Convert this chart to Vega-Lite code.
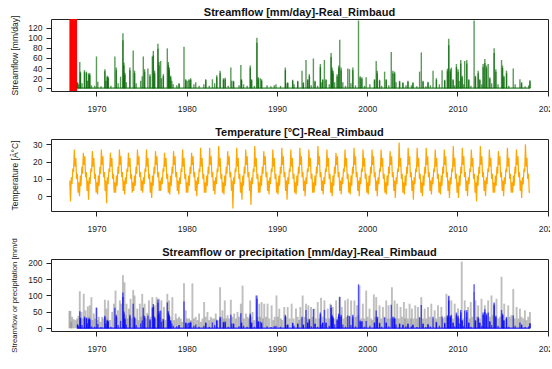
{
"$schema":"https://vega.github.io/schema/vega-lite/v6.json",
"autosize":{"type":"pad"},
"padding":{"left":9,"top":6,"right":-8,"bottom":0},
"background":"white",
"config":{
"view":{"stroke":"#222","strokeWidth":1},
"font":"Liberation Sans",
"axis":{"domain":false,"grid":false,"tickColor":"#222","tickSize":5,"labelFont":"Liberation Sans","labelFontSize":8.5,"labelColor":"#222","titleFont":"Liberation Sans","titleFontSize":8.5,"titleFontWeight":"normal","titleColor":"#222"},
"title":{"font":"Liberation Sans","fontSize":11,"fontWeight":"bold","anchor":"middle","frame":"group","offset":1,"baseline":"alphabetic","color":"#111"}
},
"bounds":"flush",
"spacing":48,
"datasets":{
"gap":[{"s":1967.0,"e":1967.85}],
"base":[{"x":1967.88,"q":0.6},{"x":2018.04,"q":0.6}],
"flow":[
{"x":1967.90,"q":12},{"x":1967.904,"q":11},{"x":1968.00,"q":8},{"x":1968.15,"q":52},{"x":1968.22,"q":33},{"x":1968.224,"q":30},{"x":1968.40,"q":10},{"x":1968.67,"q":36},{"x":1968.674,"q":32},{"x":1968.89,"q":33},{"x":1968.894,"q":30},{"x":1969.00,"q":15},{"x":1969.15,"q":30},{"x":1969.154,"q":27},{"x":1969.26,"q":30},{"x":1969.264,"q":26},{"x":1969.45,"q":6},{"x":1969.80,"q":5},
{"x":1970.00,"q":63},{"x":1970.15,"q":13},{"x":1970.50,"q":4},{"x":1970.93,"q":38},{"x":1970.934,"q":34},{"x":1971.05,"q":15},{"x":1971.19,"q":25},{"x":1971.194,"q":22},{"x":1971.30,"q":23},{"x":1971.304,"q":20},{"x":1971.60,"q":5},
{"x":1972.04,"q":63},{"x":1972.19,"q":41},{"x":1972.194,"q":36},{"x":1972.40,"q":10},{"x":1972.67,"q":23},{"x":1972.93,"q":109},{"x":1972.934,"q":95},{"x":1973.04,"q":51},{"x":1973.044,"q":45},{"x":1973.15,"q":31},{"x":1973.154,"q":27},{"x":1973.30,"q":12},{"x":1973.70,"q":41},{"x":1973.704,"q":36},
{"x":1974.07,"q":75},{"x":1974.22,"q":35},{"x":1974.224,"q":30},{"x":1974.40,"q":10},{"x":1974.90,"q":15},{"x":1975.07,"q":24},{"x":1975.19,"q":63},{"x":1975.33,"q":38},{"x":1975.334,"q":33},{"x":1975.70,"q":39},{"x":1975.93,"q":28},{"x":1975.934,"q":24},
{"x":1976.19,"q":63},{"x":1976.30,"q":74},{"x":1976.304,"q":65},{"x":1976.44,"q":35},{"x":1976.444,"q":30},{"x":1976.81,"q":88},{"x":1976.814,"q":78},{"x":1976.93,"q":52},{"x":1976.934,"q":45},{"x":1977.11,"q":54},{"x":1977.20,"q":20},{"x":1977.41,"q":28},{"x":1977.414,"q":24},{"x":1977.85,"q":79},{"x":1977.96,"q":52},{"x":1977.964,"q":46},
{"x":1978.07,"q":41},{"x":1978.074,"q":36},{"x":1978.22,"q":25},{"x":1978.224,"q":22},{"x":1978.35,"q":15},{"x":1978.50,"q":8},{"x":1978.90,"q":6},{"x":1979.15,"q":10},{"x":1979.154,"q":9},{"x":1979.70,"q":82},{"x":1979.89,"q":18},{"x":1979.894,"q":16},
{"x":1980.05,"q":15},{"x":1980.26,"q":18},{"x":1980.264,"q":16},{"x":1980.44,"q":20},{"x":1980.444,"q":17},{"x":1980.80,"q":8},{"x":1981.00,"q":12},{"x":1981.37,"q":5},{"x":1981.90,"q":8},{"x":1982.11,"q":18},{"x":1982.114,"q":16},{"x":1982.50,"q":5},{"x":1982.85,"q":18},
{"x":1983.10,"q":10},{"x":1983.33,"q":26},{"x":1983.334,"q":22},{"x":1983.70,"q":35},{"x":1983.704,"q":30},{"x":1984.07,"q":20},{"x":1984.074,"q":17},{"x":1984.26,"q":21},{"x":1984.264,"q":18},{"x":1984.60,"q":5},{"x":1984.89,"q":41},{"x":1985.00,"q":15},{"x":1985.19,"q":15},{"x":1985.194,"q":13},{"x":1985.80,"q":6},
{"x":1986.00,"q":46},{"x":1986.07,"q":18},{"x":1986.074,"q":16},{"x":1986.30,"q":8},{"x":1986.70,"q":5},{"x":1987.04,"q":45},{"x":1987.044,"q":40},{"x":1987.19,"q":18},{"x":1987.194,"q":16},{"x":1987.50,"q":5},{"x":1987.78,"q":100},{"x":1987.784,"q":90},{"x":1987.93,"q":22},{"x":1987.934,"q":19},
{"x":1988.15,"q":20},{"x":1988.30,"q":18},{"x":1988.304,"q":15},{"x":1988.90,"q":6},{"x":1989.33,"q":4},{"x":1989.70,"q":6},{"x":1989.89,"q":8},{"x":1990.40,"q":5},{"x":1990.93,"q":41},{"x":1990.934,"q":36},{"x":1991.00,"q":10},{"x":1991.19,"q":12},{"x":1991.194,"q":10},{"x":1991.74,"q":17},{"x":1991.744,"q":15},{"x":1991.90,"q":8},
{"x":1992.30,"q":15},{"x":1992.304,"q":13},{"x":1992.78,"q":35},{"x":1992.93,"q":12},{"x":1992.934,"q":10},{"x":1993.22,"q":56},{"x":1993.41,"q":18},{"x":1993.414,"q":16},{"x":1993.59,"q":28},{"x":1993.594,"q":24},{"x":1993.80,"q":6},
{"x":1994.04,"q":59},{"x":1994.22,"q":15},{"x":1994.224,"q":13},{"x":1994.50,"q":5},{"x":1994.81,"q":48},{"x":1994.814,"q":42},{"x":1994.90,"q":12},{"x":1995.07,"q":18},{"x":1995.074,"q":16},{"x":1995.26,"q":56},{"x":1995.44,"q":18},{"x":1995.444,"q":16},{"x":1995.80,"q":8},
{"x":1996.00,"q":70},{"x":1996.004,"q":62},{"x":1996.11,"q":41},{"x":1996.114,"q":36},{"x":1996.22,"q":35},{"x":1996.224,"q":30},{"x":1996.40,"q":12},{"x":1996.67,"q":28},{"x":1996.674,"q":24},{"x":1996.85,"q":45},{"x":1996.854,"q":40},{"x":1996.96,"q":96},{"x":1997.11,"q":41},{"x":1997.114,"q":36},{"x":1997.30,"q":12},{"x":1997.60,"q":5},{"x":1997.85,"q":39},
{"x":1998.04,"q":38},{"x":1998.20,"q":10},{"x":1998.41,"q":41},{"x":1998.414,"q":36},{"x":1998.70,"q":6},{"x":1999.04,"q":134},{"x":1999.22,"q":24},{"x":1999.224,"q":21},{"x":1999.41,"q":22},{"x":1999.414,"q":19},{"x":1999.70,"q":5},{"x":1999.89,"q":22},
{"x":2000.30,"q":8},{"x":2000.81,"q":18},{"x":2000.814,"q":16},{"x":2001.00,"q":54},{"x":2001.11,"q":35},{"x":2001.114,"q":30},{"x":2001.37,"q":17},{"x":2001.374,"q":15},{"x":2001.60,"q":5},{"x":2001.93,"q":33},
{"x":2002.11,"q":18},{"x":2002.114,"q":16},{"x":2002.40,"q":6},{"x":2002.67,"q":72},{"x":2002.85,"q":35},{"x":2002.854,"q":30},{"x":2003.04,"q":33},{"x":2003.044,"q":29},{"x":2003.20,"q":12},{"x":2003.59,"q":15},{"x":2003.594,"q":13},{"x":2003.96,"q":12},{"x":2003.964,"q":10},
{"x":2004.30,"q":6},{"x":2004.52,"q":15},{"x":2004.524,"q":13},{"x":2004.90,"q":6},{"x":2005.07,"q":12},{"x":2005.074,"q":10},{"x":2005.50,"q":4},{"x":2005.81,"q":33},
{"x":2006.00,"q":71},{"x":2006.19,"q":15},{"x":2006.194,"q":13},{"x":2006.50,"q":4},{"x":2006.74,"q":13},{"x":2006.744,"q":11},{"x":2007.00,"q":6},{"x":2007.30,"q":35},{"x":2007.67,"q":20},{"x":2007.674,"q":17},
{"x":2008.00,"q":8},{"x":2008.30,"q":36},{"x":2008.59,"q":17},{"x":2008.594,"q":15},{"x":2008.89,"q":39},{"x":2008.894,"q":34},{"x":2009.04,"q":98},{"x":2009.044,"q":85},{"x":2009.22,"q":38},{"x":2009.224,"q":33},{"x":2009.33,"q":41},{"x":2009.52,"q":18},{"x":2009.524,"q":16},{"x":2009.70,"q":6},{"x":2009.89,"q":48},{"x":2009.894,"q":42},
{"x":2010.07,"q":38},{"x":2010.074,"q":33},{"x":2010.20,"q":15},{"x":2010.37,"q":56},{"x":2010.374,"q":49},{"x":2010.52,"q":25},{"x":2010.524,"q":22},{"x":2010.70,"q":8},{"x":2010.81,"q":54},{"x":2011.04,"q":56},{"x":2011.044,"q":49},{"x":2011.26,"q":18},{"x":2011.264,"q":16},{"x":2011.50,"q":5},{"x":2011.85,"q":134},
{"x":2012.00,"q":25},{"x":2012.004,"q":22},{"x":2012.30,"q":35},{"x":2012.304,"q":30},{"x":2012.48,"q":18},{"x":2012.484,"q":16},{"x":2012.70,"q":8},{"x":2012.85,"q":48},{"x":2012.854,"q":42},{"x":2013.04,"q":58},{"x":2013.044,"q":50},{"x":2013.22,"q":45},{"x":2013.224,"q":40},{"x":2013.41,"q":48},{"x":2013.59,"q":22},{"x":2013.594,"q":19},{"x":2013.80,"q":10},
{"x":2014.07,"q":79},{"x":2014.074,"q":70},{"x":2014.26,"q":38},{"x":2014.264,"q":33},{"x":2014.50,"q":8},{"x":2014.89,"q":56},{"x":2015.00,"q":45},{"x":2015.004,"q":40},{"x":2015.15,"q":25},{"x":2015.154,"q":22},{"x":2015.44,"q":35},{"x":2015.444,"q":30},{"x":2015.70,"q":5},
{"x":2016.19,"q":39},{"x":2016.40,"q":8},{"x":2016.93,"q":18},{"x":2017.11,"q":12},{"x":2017.114,"q":10},{"x":2017.50,"q":4},{"x":2017.90,"q":6},{"x":2018.04,"q":16},{"x":2018.044,"q":14}
],
"prec":[
{"x":1967.00,"p":53},{"x":1967.11,"p":53},{"x":1967.20,"p":20},{"x":1967.30,"p":35},{"x":1967.48,"p":28},{"x":1967.67,"p":25},{"x":1967.85,"p":30},{"x":1968.00,"p":38},{"x":1968.15,"p":113},{"x":1968.33,"p":50},{"x":1968.45,"p":30},{"x":1968.59,"p":105},{"x":1968.78,"p":55},{"x":1968.90,"p":30},
{"x":1969.04,"p":67},{"x":1969.15,"p":35},{"x":1969.26,"p":70},{"x":1969.44,"p":95},{"x":1969.55,"p":25},{"x":1969.70,"p":45},{"x":1969.85,"p":30},{"x":1970.00,"p":63},{"x":1970.12,"p":25},{"x":1970.26,"p":35},{"x":1970.45,"p":20},{"x":1970.63,"p":35},{"x":1970.78,"p":30},{"x":1970.93,"p":87},
{"x":1971.11,"p":60},{"x":1971.20,"p":30},{"x":1971.30,"p":85},{"x":1971.50,"p":25},{"x":1971.74,"p":50},{"x":1971.93,"p":75},{"x":1972.11,"p":115},{"x":1972.25,"p":35},{"x":1972.37,"p":55},{"x":1972.59,"p":85},{"x":1972.74,"p":75},{"x":1972.93,"p":162},
{"x":1973.11,"p":140},{"x":1973.22,"p":40},{"x":1973.33,"p":75},{"x":1973.45,"p":30},{"x":1973.59,"p":60},{"x":1973.78,"p":90},{"x":1973.90,"p":30},{"x":1974.07,"p":117},{"x":1974.22,"p":100},{"x":1974.35,"p":30},{"x":1974.52,"p":60},{"x":1974.65,"p":25},{"x":1974.81,"p":75},{"x":1974.95,"p":35},
{"x":1975.07,"p":105},{"x":1975.20,"p":40},{"x":1975.33,"p":75},{"x":1975.48,"p":30},{"x":1975.63,"p":47},{"x":1975.81,"p":85},{"x":1976.00,"p":35},{"x":1976.19,"p":95},{"x":1976.30,"p":40},{"x":1976.44,"p":70},{"x":1976.55,"p":30},{"x":1976.67,"p":95},{"x":1976.80,"p":40},{"x":1976.93,"p":90},
{"x":1977.05,"p":35},{"x":1977.19,"p":85},{"x":1977.33,"p":30},{"x":1977.48,"p":65},{"x":1977.65,"p":25},{"x":1977.85,"p":105},{"x":1978.04,"p":85},{"x":1978.20,"p":35},{"x":1978.41,"p":95},{"x":1978.60,"p":25},{"x":1978.78,"p":45},{"x":1978.95,"p":30},
{"x":1979.15,"p":35},{"x":1979.33,"p":30},{"x":1979.50,"p":20},{"x":1979.70,"p":137},{"x":1979.89,"p":55},{"x":1980.05,"p":30},{"x":1980.26,"p":30},{"x":1980.45,"p":25},{"x":1980.63,"p":137},{"x":1980.80,"p":30},
{"x":1981.00,"p":35},{"x":1981.20,"p":25},{"x":1981.37,"p":45},{"x":1981.56,"p":20},{"x":1981.75,"p":30},{"x":1981.93,"p":80},{"x":1982.10,"p":35},{"x":1982.30,"p":50},{"x":1982.48,"p":25},{"x":1982.67,"p":35},{"x":1982.85,"p":30},
{"x":1983.05,"p":30},{"x":1983.22,"p":45},{"x":1983.45,"p":25},{"x":1983.70,"p":125},{"x":1983.85,"p":35},{"x":1983.96,"p":55},{"x":1984.10,"p":30},{"x":1984.22,"p":85},{"x":1984.38,"p":30},{"x":1984.52,"p":40},{"x":1984.70,"p":30},{"x":1984.89,"p":87},
{"x":1985.05,"p":35},{"x":1985.26,"p":45},{"x":1985.45,"p":30},{"x":1985.63,"p":50},{"x":1985.80,"p":35},{"x":1986.00,"p":75},{"x":1986.19,"p":130},{"x":1986.35,"p":30},{"x":1986.56,"p":45},{"x":1986.75,"p":35},{"x":1986.90,"p":30},
{"x":1987.04,"p":85},{"x":1987.15,"p":35},{"x":1987.30,"p":50},{"x":1987.48,"p":25},{"x":1987.67,"p":100},{"x":1987.85,"p":35},{"x":1988.04,"p":75},{"x":1988.15,"p":35},{"x":1988.30,"p":80},{"x":1988.45,"p":30},{"x":1988.59,"p":75},{"x":1988.78,"p":35},{"x":1988.96,"p":75},
{"x":1989.15,"p":30},{"x":1989.41,"p":70},{"x":1989.60,"p":25},{"x":1989.75,"p":35},{"x":1989.95,"p":100},{"x":1990.10,"p":35},{"x":1990.26,"p":60},{"x":1990.45,"p":30},{"x":1990.60,"p":25},{"x":1990.81,"p":65},
{"x":1991.00,"p":35},{"x":1991.19,"p":65},{"x":1991.40,"p":30},{"x":1991.63,"p":75},{"x":1991.85,"p":30},{"x":1992.11,"p":60},{"x":1992.30,"p":35},{"x":1992.45,"p":25},{"x":1992.59,"p":65},{"x":1992.72,"p":30},{"x":1992.85,"p":100},
{"x":1993.05,"p":35},{"x":1993.22,"p":75},{"x":1993.35,"p":30},{"x":1993.48,"p":70},{"x":1993.62,"p":30},{"x":1993.78,"p":65},{"x":1993.95,"p":35},{"x":1994.15,"p":60},{"x":1994.30,"p":30},{"x":1994.52,"p":80},{"x":1994.70,"p":30},{"x":1994.89,"p":93},
{"x":1995.05,"p":35},{"x":1995.26,"p":85},{"x":1995.45,"p":30},{"x":1995.63,"p":60},{"x":1995.78,"p":30},{"x":1995.93,"p":75},{"x":1996.05,"p":35},{"x":1996.19,"p":65},{"x":1996.38,"p":30},{"x":1996.56,"p":85},{"x":1996.75,"p":35},{"x":1996.93,"p":95},
{"x":1997.05,"p":35},{"x":1997.19,"p":65},{"x":1997.38,"p":30},{"x":1997.56,"p":85},{"x":1997.70,"p":35},{"x":1997.85,"p":90},{"x":1998.05,"p":35},{"x":1998.22,"p":85},{"x":1998.40,"p":30},{"x":1998.59,"p":85},{"x":1998.75,"p":35},{"x":1998.89,"p":70},
{"x":1999.02,"p":40},{"x":1999.15,"p":130},{"x":1999.35,"p":30},{"x":1999.52,"p":75},{"x":1999.70,"p":30},{"x":1999.89,"p":115},{"x":2000.05,"p":35},{"x":2000.26,"p":60},{"x":2000.45,"p":30},{"x":2000.60,"p":25},{"x":2000.74,"p":103},{"x":2000.88,"p":35},
{"x":2001.00,"p":95},{"x":2001.18,"p":35},{"x":2001.37,"p":70},{"x":2001.55,"p":30},{"x":2001.74,"p":65},{"x":2001.92,"p":35},{"x":2002.11,"p":85},{"x":2002.25,"p":30},{"x":2002.37,"p":70},{"x":2002.55,"p":30},{"x":2002.74,"p":125},{"x":2002.90,"p":35},
{"x":2003.04,"p":85},{"x":2003.18,"p":30},{"x":2003.33,"p":75},{"x":2003.50,"p":30},{"x":2003.70,"p":65},{"x":2003.88,"p":35},{"x":2004.07,"p":80},{"x":2004.20,"p":30},{"x":2004.33,"p":60},{"x":2004.50,"p":30},{"x":2004.70,"p":75},{"x":2004.85,"p":30},{"x":2004.96,"p":60},
{"x":2005.15,"p":30},{"x":2005.33,"p":70},{"x":2005.48,"p":30},{"x":2005.63,"p":65},{"x":2005.80,"p":35},{"x":2006.00,"p":95},{"x":2006.18,"p":30},{"x":2006.37,"p":60},{"x":2006.55,"p":30},{"x":2006.74,"p":65},{"x":2006.92,"p":35},
{"x":2007.11,"p":75},{"x":2007.30,"p":30},{"x":2007.48,"p":55},{"x":2007.65,"p":30},{"x":2007.85,"p":70},{"x":2008.05,"p":35},{"x":2008.22,"p":65},{"x":2008.40,"p":30},{"x":2008.60,"p":35},{"x":2008.78,"p":105},{"x":2008.92,"p":40},
{"x":2009.04,"p":100},{"x":2009.18,"p":35},{"x":2009.33,"p":85},{"x":2009.50,"p":30},{"x":2009.70,"p":75},{"x":2009.88,"p":35},{"x":2010.07,"p":60},{"x":2010.25,"p":30},{"x":2010.40,"p":40},{"x":2010.48,"p":203},{"x":2010.65,"p":30},{"x":2010.81,"p":85},
{"x":2011.00,"p":35},{"x":2011.19,"p":65},{"x":2011.35,"p":30},{"x":2011.48,"p":80},{"x":2011.65,"p":35},{"x":2011.85,"p":110},{"x":2012.00,"p":85},{"x":2012.15,"p":35},{"x":2012.30,"p":70},{"x":2012.48,"p":30},{"x":2012.67,"p":90},{"x":2012.85,"p":40},
{"x":2013.04,"p":70},{"x":2013.22,"p":35},{"x":2013.41,"p":85},{"x":2013.60,"p":35},{"x":2013.78,"p":100},{"x":2013.92,"p":40},{"x":2014.07,"p":75},{"x":2014.20,"p":35},{"x":2014.33,"p":90},{"x":2014.55,"p":30},{"x":2014.72,"p":35},{"x":2014.89,"p":157},
{"x":2015.05,"p":40},{"x":2015.19,"p":75},{"x":2015.40,"p":30},{"x":2015.63,"p":70},{"x":2015.80,"p":35},{"x":2016.00,"p":40},{"x":2016.19,"p":120},{"x":2016.35,"p":30},{"x":2016.56,"p":65},{"x":2016.75,"p":30},{"x":2016.93,"p":60},
{"x":2017.10,"p":35},{"x":2017.30,"p":30},{"x":2017.48,"p":55},{"x":2017.65,"p":25},{"x":2017.85,"p":35},{"x":2018.04,"p":50}
],
"temp":[
{"x":1967.04,"t":9},{"x":1967.12,"t":-3},{"x":1967.21,"t":11},{"x":1967.29,"t":7},{"x":1967.38,"t":16},{"x":1967.46,"t":14},{"x":1967.54,"t":27},{"x":1967.63,"t":17},{"x":1967.71,"t":22},{"x":1967.79,"t":10},{"x":1967.88,"t":13},{"x":1967.96,"t":2},
{"x":1968.04,"t":8},{"x":1968.12,"t":0},{"x":1968.21,"t":12},{"x":1968.29,"t":6},{"x":1968.38,"t":17},{"x":1968.46,"t":13},{"x":1968.54,"t":25},{"x":1968.63,"t":18},{"x":1968.71,"t":23},{"x":1968.79,"t":11},{"x":1968.88,"t":14},{"x":1968.96,"t":3},
{"x":1969.04,"t":9},{"x":1969.12,"t":-2},{"x":1969.21,"t":11},{"x":1969.29,"t":7},{"x":1969.38,"t":16},{"x":1969.46,"t":14},{"x":1969.54,"t":26},{"x":1969.63,"t":17},{"x":1969.71,"t":22},{"x":1969.79,"t":10},{"x":1969.88,"t":13},{"x":1969.96,"t":2},
{"x":1970.04,"t":8},{"x":1970.12,"t":1},{"x":1970.21,"t":12},{"x":1970.29,"t":6},{"x":1970.38,"t":17},{"x":1970.46,"t":13},{"x":1970.54,"t":27},{"x":1970.63,"t":18},{"x":1970.71,"t":23},{"x":1970.79,"t":11},{"x":1970.88,"t":14},{"x":1970.96,"t":3},
{"x":1971.04,"t":9},{"x":1971.12,"t":-4},{"x":1971.21,"t":11},{"x":1971.29,"t":7},{"x":1971.38,"t":16},{"x":1971.46,"t":14},{"x":1971.54,"t":25},{"x":1971.63,"t":17},{"x":1971.71,"t":22},{"x":1971.79,"t":10},{"x":1971.88,"t":13},{"x":1971.96,"t":2},
{"x":1972.04,"t":8},{"x":1972.12,"t":2},{"x":1972.21,"t":12},{"x":1972.29,"t":6},{"x":1972.38,"t":17},{"x":1972.46,"t":13},{"x":1972.54,"t":27},{"x":1972.63,"t":18},{"x":1972.71,"t":23},{"x":1972.79,"t":11},{"x":1972.88,"t":14},{"x":1972.96,"t":3},
{"x":1973.04,"t":9},{"x":1973.12,"t":1},{"x":1973.21,"t":11},{"x":1973.29,"t":7},{"x":1973.38,"t":16},{"x":1973.46,"t":14},{"x":1973.54,"t":25},{"x":1973.63,"t":17},{"x":1973.71,"t":22},{"x":1973.79,"t":10},{"x":1973.88,"t":13},{"x":1973.96,"t":2},
{"x":1974.04,"t":8},{"x":1974.12,"t":3},{"x":1974.21,"t":12},{"x":1974.29,"t":6},{"x":1974.38,"t":17},{"x":1974.46,"t":13},{"x":1974.54,"t":27},{"x":1974.63,"t":18},{"x":1974.71,"t":23},{"x":1974.79,"t":11},{"x":1974.88,"t":14},{"x":1974.96,"t":3},
{"x":1975.04,"t":9},{"x":1975.12,"t":2},{"x":1975.21,"t":11},{"x":1975.29,"t":7},{"x":1975.38,"t":16},{"x":1975.46,"t":14},{"x":1975.54,"t":27},{"x":1975.63,"t":17},{"x":1975.71,"t":22},{"x":1975.79,"t":10},{"x":1975.88,"t":13},{"x":1975.96,"t":2},
{"x":1976.04,"t":8},{"x":1976.12,"t":-1},{"x":1976.21,"t":12},{"x":1976.29,"t":6},{"x":1976.38,"t":17},{"x":1976.46,"t":13},{"x":1976.54,"t":26},{"x":1976.63,"t":18},{"x":1976.71,"t":23},{"x":1976.79,"t":11},{"x":1976.88,"t":14},{"x":1976.96,"t":3},
{"x":1977.04,"t":9},{"x":1977.12,"t":3},{"x":1977.21,"t":11},{"x":1977.29,"t":7},{"x":1977.38,"t":16},{"x":1977.46,"t":14},{"x":1977.54,"t":25},{"x":1977.63,"t":17},{"x":1977.71,"t":22},{"x":1977.79,"t":10},{"x":1977.88,"t":13},{"x":1977.96,"t":2},
{"x":1978.04,"t":8},{"x":1978.12,"t":1},{"x":1978.21,"t":12},{"x":1978.29,"t":6},{"x":1978.38,"t":17},{"x":1978.46,"t":13},{"x":1978.54,"t":26},{"x":1978.63,"t":18},{"x":1978.71,"t":23},{"x":1978.79,"t":11},{"x":1978.88,"t":14},{"x":1978.96,"t":3},
{"x":1979.04,"t":9},{"x":1979.12,"t":1},{"x":1979.21,"t":11},{"x":1979.29,"t":7},{"x":1979.38,"t":16},{"x":1979.46,"t":14},{"x":1979.54,"t":27},{"x":1979.63,"t":17},{"x":1979.71,"t":22},{"x":1979.79,"t":10},{"x":1979.88,"t":13},{"x":1979.96,"t":2},
{"x":1980.04,"t":8},{"x":1980.12,"t":2},{"x":1980.21,"t":12},{"x":1980.29,"t":6},{"x":1980.38,"t":17},{"x":1980.46,"t":13},{"x":1980.54,"t":25},{"x":1980.63,"t":18},{"x":1980.71,"t":23},{"x":1980.79,"t":11},{"x":1980.88,"t":14},{"x":1980.96,"t":3},
{"x":1981.04,"t":9},{"x":1981.12,"t":0},{"x":1981.21,"t":11},{"x":1981.29,"t":7},{"x":1981.38,"t":16},{"x":1981.46,"t":14},{"x":1981.54,"t":28},{"x":1981.63,"t":17},{"x":1981.71,"t":22},{"x":1981.79,"t":10},{"x":1981.88,"t":13},{"x":1981.96,"t":2},
{"x":1982.04,"t":8},{"x":1982.12,"t":2},{"x":1982.21,"t":12},{"x":1982.29,"t":6},{"x":1982.38,"t":17},{"x":1982.46,"t":13},{"x":1982.54,"t":28},{"x":1982.63,"t":18},{"x":1982.71,"t":23},{"x":1982.79,"t":11},{"x":1982.88,"t":14},{"x":1982.96,"t":3},
{"x":1983.04,"t":9},{"x":1983.12,"t":1},{"x":1983.21,"t":11},{"x":1983.29,"t":7},{"x":1983.38,"t":16},{"x":1983.46,"t":14},{"x":1983.54,"t":29},{"x":1983.63,"t":17},{"x":1983.71,"t":22},{"x":1983.79,"t":10},{"x":1983.88,"t":13},{"x":1983.96,"t":2},
{"x":1984.04,"t":8},{"x":1984.12,"t":1},{"x":1984.21,"t":12},{"x":1984.29,"t":6},{"x":1984.38,"t":17},{"x":1984.46,"t":13},{"x":1984.54,"t":26},{"x":1984.63,"t":18},{"x":1984.71,"t":23},{"x":1984.79,"t":11},{"x":1984.88,"t":14},{"x":1984.96,"t":3},
{"x":1985.04,"t":9},{"x":1985.12,"t":-7},{"x":1985.21,"t":11},{"x":1985.29,"t":7},{"x":1985.38,"t":16},{"x":1985.46,"t":14},{"x":1985.54,"t":28},{"x":1985.63,"t":17},{"x":1985.71,"t":22},{"x":1985.79,"t":10},{"x":1985.88,"t":13},{"x":1985.96,"t":2},
{"x":1986.04,"t":8},{"x":1986.12,"t":-2},{"x":1986.21,"t":12},{"x":1986.29,"t":6},{"x":1986.38,"t":17},{"x":1986.46,"t":13},{"x":1986.54,"t":27},{"x":1986.63,"t":18},{"x":1986.71,"t":23},{"x":1986.79,"t":11},{"x":1986.88,"t":14},{"x":1986.96,"t":3},
{"x":1987.04,"t":9},{"x":1987.12,"t":-5},{"x":1987.21,"t":11},{"x":1987.29,"t":7},{"x":1987.38,"t":16},{"x":1987.46,"t":14},{"x":1987.54,"t":29},{"x":1987.63,"t":17},{"x":1987.71,"t":22},{"x":1987.79,"t":10},{"x":1987.88,"t":13},{"x":1987.96,"t":2},
{"x":1988.04,"t":8},{"x":1988.12,"t":2},{"x":1988.21,"t":12},{"x":1988.29,"t":6},{"x":1988.38,"t":17},{"x":1988.46,"t":13},{"x":1988.54,"t":26},{"x":1988.63,"t":18},{"x":1988.71,"t":23},{"x":1988.79,"t":11},{"x":1988.88,"t":14},{"x":1988.96,"t":3},
{"x":1989.04,"t":9},{"x":1989.12,"t":1},{"x":1989.21,"t":11},{"x":1989.29,"t":7},{"x":1989.38,"t":16},{"x":1989.46,"t":14},{"x":1989.54,"t":27},{"x":1989.63,"t":17},{"x":1989.71,"t":22},{"x":1989.79,"t":10},{"x":1989.88,"t":13},{"x":1989.96,"t":2},
{"x":1990.04,"t":8},{"x":1990.12,"t":1},{"x":1990.21,"t":12},{"x":1990.29,"t":6},{"x":1990.38,"t":17},{"x":1990.46,"t":13},{"x":1990.54,"t":28},{"x":1990.63,"t":18},{"x":1990.71,"t":23},{"x":1990.79,"t":11},{"x":1990.88,"t":14},{"x":1990.96,"t":3},
{"x":1991.04,"t":9},{"x":1991.12,"t":-2},{"x":1991.21,"t":11},{"x":1991.29,"t":7},{"x":1991.38,"t":16},{"x":1991.46,"t":14},{"x":1991.54,"t":27},{"x":1991.63,"t":17},{"x":1991.71,"t":22},{"x":1991.79,"t":10},{"x":1991.88,"t":13},{"x":1991.96,"t":2},
{"x":1992.04,"t":8},{"x":1992.12,"t":1},{"x":1992.21,"t":12},{"x":1992.29,"t":6},{"x":1992.38,"t":17},{"x":1992.46,"t":13},{"x":1992.54,"t":28},{"x":1992.63,"t":18},{"x":1992.71,"t":23},{"x":1992.79,"t":11},{"x":1992.88,"t":14},{"x":1992.96,"t":3},
{"x":1993.04,"t":9},{"x":1993.12,"t":0},{"x":1993.21,"t":11},{"x":1993.29,"t":7},{"x":1993.38,"t":16},{"x":1993.46,"t":14},{"x":1993.54,"t":27},{"x":1993.63,"t":17},{"x":1993.71,"t":22},{"x":1993.79,"t":10},{"x":1993.88,"t":13},{"x":1993.96,"t":2},
{"x":1994.04,"t":8},{"x":1994.12,"t":2},{"x":1994.21,"t":12},{"x":1994.29,"t":6},{"x":1994.38,"t":17},{"x":1994.46,"t":13},{"x":1994.54,"t":29},{"x":1994.63,"t":18},{"x":1994.71,"t":23},{"x":1994.79,"t":11},{"x":1994.88,"t":14},{"x":1994.96,"t":3},
{"x":1995.04,"t":9},{"x":1995.12,"t":1},{"x":1995.21,"t":11},{"x":1995.29,"t":7},{"x":1995.38,"t":16},{"x":1995.46,"t":14},{"x":1995.54,"t":27},{"x":1995.63,"t":17},{"x":1995.71,"t":22},{"x":1995.79,"t":10},{"x":1995.88,"t":13},{"x":1995.96,"t":2},
{"x":1996.04,"t":8},{"x":1996.12,"t":0},{"x":1996.21,"t":12},{"x":1996.29,"t":6},{"x":1996.38,"t":17},{"x":1996.46,"t":13},{"x":1996.54,"t":25},{"x":1996.63,"t":18},{"x":1996.71,"t":23},{"x":1996.79,"t":11},{"x":1996.88,"t":14},{"x":1996.96,"t":3},
{"x":1997.04,"t":9},{"x":1997.12,"t":1},{"x":1997.21,"t":11},{"x":1997.29,"t":7},{"x":1997.38,"t":16},{"x":1997.46,"t":14},{"x":1997.54,"t":27},{"x":1997.63,"t":17},{"x":1997.71,"t":22},{"x":1997.79,"t":10},{"x":1997.88,"t":13},{"x":1997.96,"t":2},
{"x":1998.04,"t":8},{"x":1998.12,"t":1},{"x":1998.21,"t":12},{"x":1998.29,"t":6},{"x":1998.38,"t":17},{"x":1998.46,"t":13},{"x":1998.54,"t":28},{"x":1998.63,"t":18},{"x":1998.71,"t":23},{"x":1998.79,"t":11},{"x":1998.88,"t":14},{"x":1998.96,"t":3},
{"x":1999.04,"t":9},{"x":1999.12,"t":0},{"x":1999.21,"t":11},{"x":1999.29,"t":7},{"x":1999.38,"t":16},{"x":1999.46,"t":14},{"x":1999.54,"t":27},{"x":1999.63,"t":17},{"x":1999.71,"t":22},{"x":1999.79,"t":10},{"x":1999.88,"t":13},{"x":1999.96,"t":2},
{"x":2000.04,"t":8},{"x":2000.12,"t":1},{"x":2000.21,"t":12},{"x":2000.29,"t":6},{"x":2000.38,"t":17},{"x":2000.46,"t":13},{"x":2000.54,"t":27},{"x":2000.63,"t":18},{"x":2000.71,"t":23},{"x":2000.79,"t":11},{"x":2000.88,"t":14},{"x":2000.96,"t":3},
{"x":2001.04,"t":9},{"x":2001.12,"t":0},{"x":2001.21,"t":11},{"x":2001.29,"t":7},{"x":2001.38,"t":16},{"x":2001.46,"t":14},{"x":2001.54,"t":27},{"x":2001.63,"t":17},{"x":2001.71,"t":22},{"x":2001.79,"t":10},{"x":2001.88,"t":13},{"x":2001.96,"t":2},
{"x":2002.04,"t":8},{"x":2002.12,"t":1},{"x":2002.21,"t":12},{"x":2002.29,"t":6},{"x":2002.38,"t":17},{"x":2002.46,"t":13},{"x":2002.54,"t":26},{"x":2002.63,"t":18},{"x":2002.71,"t":23},{"x":2002.79,"t":11},{"x":2002.88,"t":14},{"x":2002.96,"t":3},
{"x":2003.04,"t":9},{"x":2003.12,"t":-1},{"x":2003.21,"t":11},{"x":2003.29,"t":7},{"x":2003.38,"t":16},{"x":2003.46,"t":14},{"x":2003.54,"t":31},{"x":2003.63,"t":17},{"x":2003.71,"t":22},{"x":2003.79,"t":10},{"x":2003.88,"t":13},{"x":2003.96,"t":2},
{"x":2004.04,"t":8},{"x":2004.12,"t":1},{"x":2004.21,"t":12},{"x":2004.29,"t":6},{"x":2004.38,"t":17},{"x":2004.46,"t":13},{"x":2004.54,"t":28},{"x":2004.63,"t":18},{"x":2004.71,"t":23},{"x":2004.79,"t":11},{"x":2004.88,"t":14},{"x":2004.96,"t":3},
{"x":2005.04,"t":9},{"x":2005.12,"t":-2},{"x":2005.21,"t":11},{"x":2005.29,"t":7},{"x":2005.38,"t":16},{"x":2005.46,"t":14},{"x":2005.54,"t":28},{"x":2005.63,"t":17},{"x":2005.71,"t":22},{"x":2005.79,"t":10},{"x":2005.88,"t":13},{"x":2005.96,"t":2},
{"x":2006.04,"t":8},{"x":2006.12,"t":0},{"x":2006.21,"t":12},{"x":2006.29,"t":6},{"x":2006.38,"t":17},{"x":2006.46,"t":13},{"x":2006.54,"t":28},{"x":2006.63,"t":18},{"x":2006.71,"t":23},{"x":2006.79,"t":11},{"x":2006.88,"t":14},{"x":2006.96,"t":3},
{"x":2007.04,"t":9},{"x":2007.12,"t":1},{"x":2007.21,"t":11},{"x":2007.29,"t":7},{"x":2007.38,"t":16},{"x":2007.46,"t":14},{"x":2007.54,"t":27},{"x":2007.63,"t":17},{"x":2007.71,"t":22},{"x":2007.79,"t":10},{"x":2007.88,"t":13},{"x":2007.96,"t":2},
{"x":2008.04,"t":8},{"x":2008.12,"t":1},{"x":2008.21,"t":12},{"x":2008.29,"t":6},{"x":2008.38,"t":17},{"x":2008.46,"t":13},{"x":2008.54,"t":27},{"x":2008.63,"t":18},{"x":2008.71,"t":23},{"x":2008.79,"t":11},{"x":2008.88,"t":14},{"x":2008.96,"t":3},
{"x":2009.04,"t":9},{"x":2009.12,"t":-1},{"x":2009.21,"t":11},{"x":2009.29,"t":7},{"x":2009.38,"t":16},{"x":2009.46,"t":14},{"x":2009.54,"t":29},{"x":2009.63,"t":17},{"x":2009.71,"t":22},{"x":2009.79,"t":10},{"x":2009.88,"t":13},{"x":2009.96,"t":2},
{"x":2010.04,"t":8},{"x":2010.12,"t":-1},{"x":2010.21,"t":12},{"x":2010.29,"t":6},{"x":2010.38,"t":17},{"x":2010.46,"t":13},{"x":2010.54,"t":28},{"x":2010.63,"t":18},{"x":2010.71,"t":23},{"x":2010.79,"t":11},{"x":2010.88,"t":14},{"x":2010.96,"t":3},
{"x":2011.04,"t":9},{"x":2011.12,"t":0},{"x":2011.21,"t":11},{"x":2011.29,"t":7},{"x":2011.38,"t":16},{"x":2011.46,"t":14},{"x":2011.54,"t":27},{"x":2011.63,"t":17},{"x":2011.71,"t":22},{"x":2011.79,"t":10},{"x":2011.88,"t":13},{"x":2011.96,"t":2},
{"x":2012.04,"t":8},{"x":2012.12,"t":-3},{"x":2012.21,"t":12},{"x":2012.29,"t":6},{"x":2012.38,"t":17},{"x":2012.46,"t":13},{"x":2012.54,"t":29},{"x":2012.63,"t":18},{"x":2012.71,"t":23},{"x":2012.79,"t":11},{"x":2012.88,"t":14},{"x":2012.96,"t":3},
{"x":2013.04,"t":9},{"x":2013.12,"t":0},{"x":2013.21,"t":11},{"x":2013.29,"t":7},{"x":2013.38,"t":16},{"x":2013.46,"t":14},{"x":2013.54,"t":27},{"x":2013.63,"t":17},{"x":2013.71,"t":22},{"x":2013.79,"t":10},{"x":2013.88,"t":13},{"x":2013.96,"t":2},
{"x":2014.04,"t":8},{"x":2014.12,"t":2},{"x":2014.21,"t":12},{"x":2014.29,"t":6},{"x":2014.38,"t":17},{"x":2014.46,"t":13},{"x":2014.54,"t":26},{"x":2014.63,"t":18},{"x":2014.71,"t":23},{"x":2014.79,"t":11},{"x":2014.88,"t":14},{"x":2014.96,"t":3},
{"x":2015.04,"t":9},{"x":2015.12,"t":0},{"x":2015.21,"t":11},{"x":2015.29,"t":7},{"x":2015.38,"t":16},{"x":2015.46,"t":14},{"x":2015.54,"t":28},{"x":2015.63,"t":17},{"x":2015.71,"t":22},{"x":2015.79,"t":10},{"x":2015.88,"t":13},{"x":2015.96,"t":2},
{"x":2016.04,"t":8},{"x":2016.12,"t":2},{"x":2016.21,"t":12},{"x":2016.29,"t":6},{"x":2016.38,"t":17},{"x":2016.46,"t":13},{"x":2016.54,"t":27},{"x":2016.63,"t":18},{"x":2016.71,"t":23},{"x":2016.79,"t":11},{"x":2016.88,"t":14},{"x":2016.96,"t":3},
{"x":2017.04,"t":9},{"x":2017.12,"t":-1},{"x":2017.21,"t":11},{"x":2017.29,"t":7},{"x":2017.38,"t":16},{"x":2017.46,"t":14},{"x":2017.54,"t":30},{"x":2017.63,"t":17},{"x":2017.71,"t":22},{"x":2017.79,"t":10},{"x":2017.88,"t":13},{"x":2017.96,"t":2},
{"x":2018.00,"t":3}
]
},
"vconcat":[
{
"width":497,"height":72,
"title":{"text":"Streamflow [mm/day]-Real_Rimbaud","dy":4},
"layer":[
{"data":{"name":"gap"},"mark":{"type":"rect","color":"#ff0000"},
"encoding":{"x":{"field":"s","type":"quantitative","title":null,"scale":{"domain":[1964.96,2020.04],"nice":false,"zero":false},"axis":{"values":[1970,1980,1990,2000,2010,2020],"format":"d","labelFlush":false,"labelOverlap":false,"labelPadding":8.5}},"x2":{"field":"e"}}},
{"data":{"name":"flow"},"mark":{"type":"rule","color":"#006400","opacity":0.65,"strokeWidth":1.4},
"encoding":{"x":{"field":"x","type":"quantitative","title":null,"scale":{"domain":[1964.96,2020.04],"nice":false,"zero":false},"axis":{"values":[1970,1980,1990,2000,2010,2020],"format":"d","labelFlush":false,"labelOverlap":false,"labelPadding":8.5}},
"y":{"field":"q","type":"quantitative","title":"Streamflow [mm/day]","scale":{"domain":[-5.2,137],"nice":false,"zero":false},"axis":{"values":[0,20,40,60,80,100,120],"labelPadding":4,"titleX":-37,"titleY":36,"titleAngle":-90,"titleAlign":"center","titleBaseline":"middle"}},
"y2":{"datum":0}}},
{"data":{"name":"base"},"mark":{"type":"line","color":"#006400","strokeWidth":1},
"encoding":{"x":{"field":"x","type":"quantitative","title":null,"scale":{"domain":[1964.96,2020.04],"nice":false,"zero":false},"axis":{"values":[1970,1980,1990,2000,2010,2020],"format":"d","labelFlush":false,"labelOverlap":false,"labelPadding":8.5}},
"y":{"field":"q","type":"quantitative","title":"Streamflow [mm/day]","scale":{"domain":[-5.2,137],"nice":false,"zero":false},"axis":{"values":[0,20,40,60,80,100,120],"labelPadding":4,"titleX":-37,"titleY":36,"titleAngle":-90,"titleAlign":"center","titleBaseline":"middle"}}}}
]
},
{
"width":497,"height":72,
"title":{"text":"Temperature [°C]-Real_Rimbaud","dy":0},
"data":{"name":"temp"},
"mark":{"type":"line","color":"#FFA500","strokeWidth":1.2},
"encoding":{"x":{"field":"x","type":"quantitative","title":null,"scale":{"domain":[1964.96,2020.04],"nice":false,"zero":false},"axis":{"values":[1970,1980,1990,2000,2010,2020],"format":"d","labelFlush":false,"labelOverlap":false,"labelPadding":8.5}},
"y":{"field":"t","type":"quantitative","title":"Temperature [Â°C]","scale":{"domain":[-8.5,33],"nice":false,"zero":false},"axis":{"values":[0,10,20,30],"labelPadding":4,"titleX":-37,"titleY":36,"titleAngle":-90,"titleAlign":"center","titleBaseline":"middle"}}}
},
{
"width":497,"height":72,
"title":{"text":"Streamflow or precipitation [mm/day]-Real_Rimbaud","dy":21},
"layer":[
{"data":{"name":"prec"},"mark":{"type":"rule","color":"#808080","opacity":0.5,"strokeWidth":1.9},
"encoding":{"x":{"field":"x","type":"quantitative","title":null,"scale":{"domain":[1964.96,2020.04],"nice":false,"zero":false},"axis":{"values":[1970,1980,1990,2000,2010,2020],"format":"d","labelFlush":false,"labelOverlap":false,"labelPadding":8.5}},
"y":{"field":"p","type":"quantitative","title":"Streamflow or precipitation [mm/d","scale":{"domain":[-8.1,211],"nice":false,"zero":false},"axis":{"values":[0,50,100,150,200],"labelPadding":4,"titleFontSize":7.7,"titleX":-37,"titleY":36,"titleAngle":-90,"titleAlign":"center","titleBaseline":"middle"}},
"y2":{"datum":0}}},
{"data":{"name":"flow"},"mark":{"type":"rule","color":"#0000FF","opacity":0.65,"strokeWidth":1.4},
"encoding":{"x":{"field":"x","type":"quantitative","title":null,"scale":{"domain":[1964.96,2020.04],"nice":false,"zero":false},"axis":{"values":[1970,1980,1990,2000,2010,2020],"format":"d","labelFlush":false,"labelOverlap":false,"labelPadding":8.5}},
"y":{"field":"q","type":"quantitative","title":"Streamflow or precipitation [mm/d","scale":{"domain":[-8.1,211],"nice":false,"zero":false},"axis":{"values":[0,50,100,150,200],"labelPadding":4,"titleFontSize":7.7,"titleX":-37,"titleY":36,"titleAngle":-90,"titleAlign":"center","titleBaseline":"middle"}},
"y2":{"datum":0}}},
{"data":{"name":"base"},"mark":{"type":"line","color":"#0000FF","strokeWidth":1},
"encoding":{"x":{"field":"x","type":"quantitative","title":null,"scale":{"domain":[1964.96,2020.04],"nice":false,"zero":false},"axis":{"values":[1970,1980,1990,2000,2010,2020],"format":"d","labelFlush":false,"labelOverlap":false,"labelPadding":8.5}},
"y":{"field":"q","type":"quantitative","title":"Streamflow or precipitation [mm/d","scale":{"domain":[-8.1,211],"nice":false,"zero":false},"axis":{"values":[0,50,100,150,200],"labelPadding":4,"titleFontSize":7.7,"titleX":-37,"titleY":36,"titleAngle":-90,"titleAlign":"center","titleBaseline":"middle"}}}}
]
}
]
}
